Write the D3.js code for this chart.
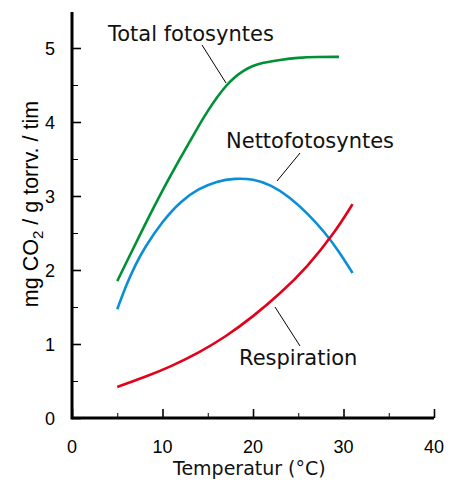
<!DOCTYPE html>
<html>
<head>
<meta charset="utf-8">
<script src="https://cdn.jsdelivr.net/npm/d3@7"></script>
<style>
  body { margin: 0; background: #fff; }
  svg { display: block; }
</style>
</head>
<body>
<div id="chart"></div>
<script>
// values (temperature °C, mg CO2 / g / h)
const totalTemp = [5, 6, 8, 10, 12, 14, 15, 16, 17, 18, 19, 20, 21, 23, 25, 27, 29.5];
const totalVals = [1.85, 2.1, 2.6, 3.08, 3.52, 3.95, 4.15, 4.33, 4.49, 4.61, 4.7, 4.76, 4.8, 4.84, 4.87, 4.88, 4.88];

const nettoTemp = [5, 6, 7, 8, 10, 12, 14, 16, 18, 20, 22, 24, 26, 28, 29.5, 31];
const nettoVals = [1.47, 1.8, 2.07, 2.3, 2.66, 2.93, 3.1, 3.2, 3.24, 3.23, 3.15, 2.99, 2.77, 2.5, 2.25, 1.96];

const respTemp = [5, 8, 11, 14, 17, 20, 23, 26, 29, 31];
const respVals = [0.42, 0.55, 0.7, 0.88, 1.1, 1.37, 1.68, 2.04, 2.5, 2.89];

const xTicks = [0, 10, 20, 30, 40];
const yTicks = [0, 1, 2, 3, 4, 5];

const W = 456, H = 481;
const x = d3.scaleLinear().domain([0, 40]).range([72, 434]);
const y = d3.scaleLinear().domain([0, 5]).range([418, 48]);

const svg = d3.select('#chart').append('svg').attr('width', W).attr('height', H);

const line = d3.line().curve(d3.curveBasis).x(d => x(d[0])).y(d => y(d[1]));

const series = [
  { t: totalTemp, v: totalVals, color: '#009036' },
  { t: nettoTemp, v: nettoVals, color: '#0a8fd6' },
  { t: respTemp, v: respVals, color: '#e3001b' },
];

svg.selectAll('path.curve')
  .data(series)
  .join('path')
  .attr('class', 'curve')
  .attr('fill', 'none')
  .attr('stroke', d => d.color)
  .attr('stroke-width', 2.6)
  .attr('d', d => line(d.t.map((t, i) => [t, d.v[i]])));

// axes: ticks point inward
const tickFont = '"Liberation Sans", Arial, sans-serif';
const xAxis = svg.append('g').attr('transform', `translate(0,${y(0)})`);
xAxis.call(d3.axisTop(x).tickValues(xTicks).tickSize(9).tickFormat(''))
  .call(g => g.select('.domain').remove())
  .call(g => g.selectAll('line').attr('stroke', '#000').attr('stroke-width', 1.6));
xAxis.append('g').call(d3.axisTop(x).tickValues([5, 15, 25, 35]).tickSize(5).tickFormat(''))
  .call(g => g.select('.domain').remove())
  .call(g => g.selectAll('line').attr('stroke', '#000').attr('stroke-width', 1));

const yAxis = svg.append('g').attr('transform', `translate(${x(0)},0)`);
yAxis.call(d3.axisRight(y).tickValues(yTicks).tickSize(9).tickFormat(''))
  .call(g => g.select('.domain').remove())
  .call(g => g.selectAll('line').attr('stroke', '#000').attr('stroke-width', 1.6));
yAxis.append('g').call(d3.axisRight(y).tickValues([0.5, 1.5, 2.5, 3.5, 4.5]).tickSize(6).tickFormat(''))
  .call(g => g.select('.domain').remove())
  .call(g => g.selectAll('line').attr('stroke', '#000').attr('stroke-width', 1));

// axis lines
svg.append('path')
  .attr('d', `M${x(0)},12 V${y(0)} H${x(40)}`)
  .attr('fill', 'none').attr('stroke', '#000').attr('stroke-width', 3);

svg.append('g').selectAll('text')
  .data(xTicks).join('text')
  .attr('x', d => x(d)).attr('y', 453)
  .attr('text-anchor', 'middle')
  .attr('font-family', tickFont).attr('font-size', 18)
  .text(d => d);

svg.append('g').selectAll('text')
  .data(yTicks).join('text')
  .attr('x', 50).attr('y', d => y(d) + 6.5)
  .attr('text-anchor', 'middle')
  .attr('font-family', tickFont).attr('font-size', 18)
  .text(d => d);

const labelFont = '"DejaVu Sans", Verdana, sans-serif';

svg.append('text')
  .attr('x', 173).attr('y', 475)
  .attr('font-family', labelFont).attr('font-size', 19)
  .attr('fill', '#111')
  .text('Temperatur (°C)');

const yl = svg.append('text')
  .attr('transform', 'translate(38,204) rotate(-90)')
  .attr('text-anchor', 'middle')
  .attr('font-family', tickFont).attr('font-size', 21.5);
yl.append('tspan').text('mg CO');
yl.append('tspan').attr('font-size', 15).attr('dy', 5).text('2');
yl.append('tspan').attr('dy', -5).text(' / g torrv. / tim');

// curve labels with leader lines
const labels = [
  { text: 'Total fotosyntes', tx: 108, ty: 41, l: [[202, 45], [226, 83]] },
  { text: 'Nettofotosyntes', tx: 226, ty: 148, l: [[300, 153], [277, 181]] },
  { text: 'Respiration', tx: 239, ty: 365, l: [[275, 307], [300, 346]] },
];

svg.append('g').selectAll('text')
  .data(labels).join('text')
  .attr('x', d => d.tx).attr('y', d => d.ty)
  .attr('font-family', labelFont).attr('font-size', 21)
  .attr('fill', '#111')
  .text(d => d.text);

svg.append('g').selectAll('line')
  .data(labels).join('line')
  .attr('x1', d => d.l[0][0]).attr('y1', d => d.l[0][1])
  .attr('x2', d => d.l[1][0]).attr('y2', d => d.l[1][1])
  .attr('stroke', '#000').attr('stroke-width', 1);
</script>
</body>
</html>
